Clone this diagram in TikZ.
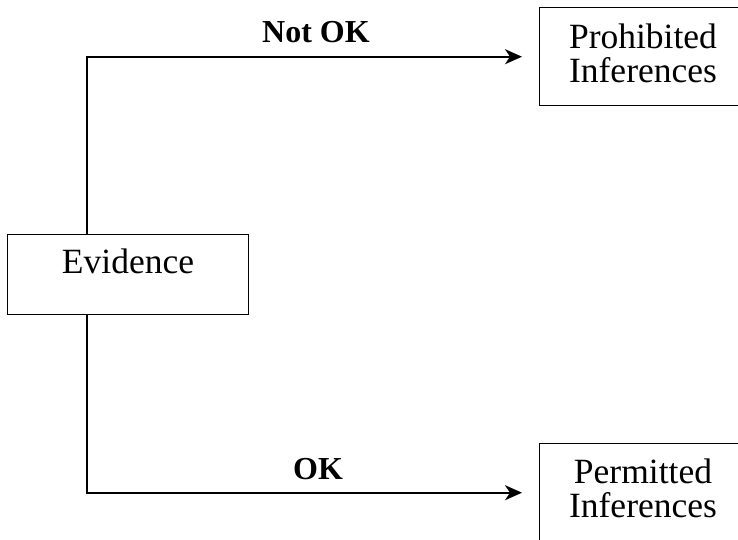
\documentclass[tikz,border=0pt]{standalone}
\usepackage{fontspec}
\setmainfont{Liberation Serif}
\usetikzlibrary{arrows.meta}
\begin{document}
\begin{tikzpicture}[x=1pt,y=-1pt,
  boxstyle/.style={draw, line width=1.4pt, inner sep=0pt},
  boxtext/.style={inner sep=0pt, align=center, font=\fontsize{35.5}{34}\selectfont},
  lbl/.style={inner sep=0pt, font=\fontsize{32}{36}\selectfont\bfseries},
  conn/.style={line width=1.6pt},
  arr/.style={conn, -{Stealth[length=17pt,width=15pt,inset=5pt]}}]
\useasboundingbox (0,0) rectangle (738,539);
% boxes
\node[boxstyle, minimum width=241pt, minimum height=80pt, anchor=north west] (ev) at (7,234) {};
\node[boxtext, anchor=base] (evt) at (128,273) {Evidence};
\node[boxstyle, minimum width=205pt, minimum height=98pt, anchor=north west] (pi) at (539,7) {};
\node[boxtext] (pit) at (643,53) {Prohibited\\Inferences};
\node[boxstyle, minimum width=205pt, minimum height=98pt, anchor=north west] (pe) at (539,443) {};
\node[boxtext] (pet) at (643,488) {Permitted\\Inferences};
% connectors
\coordinate (vx) at (87,274);
\draw[arr] (ev.north -| vx) |- ([xshift=-17pt]pi.west);
\draw[arr] (ev.south -| vx) |- ([xshift=-17pt]pe.west);
% labels
\node[lbl, anchor=base] (nok) at (316,42) {Not OK};
\node[lbl, anchor=base] (ok) at (318,479) {OK};
\end{tikzpicture}
\end{document}
